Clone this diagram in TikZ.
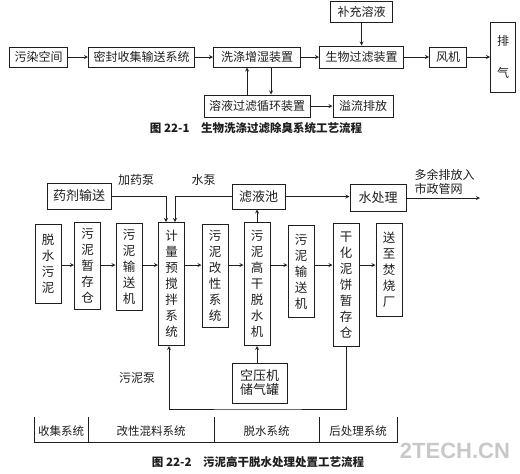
\documentclass[tikz,border=0pt]{standalone}
\usepackage{fontspec}
\setmainfont{Noto Sans CJK SC}
\newfontfamily\markfont{Liberation Sans}
\usepackage{tikz}
\usetikzlibrary{arrows, positioning}
\definecolor{ink}{RGB}{30, 30, 30}
\definecolor{markgray}{RGB}{200, 200, 200}
\tikzstyle{block} = [rectangle, draw=ink, line width=1pt, minimum height=20pt, inner xsep=5pt, text=ink, font=\fontsize{12}{14}\selectfont]
\tikzstyle{bblock} = [rectangle, draw=ink, line width=1pt, inner xsep=5pt, align=center, text=ink, font=\fontsize{13}{14}\selectfont]
\tikzstyle{vblock} = [rectangle, draw=ink, line width=1pt, anchor=north, align=center, minimum width=26pt, inner xsep=6pt, inner ysep=6pt, text=ink, font=\fontsize{12.5}{16}\selectfont]
\tikzstyle{note} = [text=ink, font=\fontsize{12}{13.5}\selectfont]
\tikzstyle{caption} = [text=ink, font=\bfseries\fontsize{11.5}{14}\selectfont]
\tikzstyle{arrow} = [line width=0.8pt, ->, >=stealth, color=ink]

\begin{document}
\begin{tikzpicture}[x=1pt, y=-1pt]
    \useasboundingbox (0,0) rectangle (520,474);

    % Nodes, figure 22-1
    \node (wuran) [block] at (38.5,57) {污染空间};
    \node (mifeng) [block, right=20pt of wuran] {密封收集输送系统};
    \node (xidi) [block, right=18pt of mifeng, minimum width=87pt] {洗涤增湿装置};
    \node (shengwu) [block, right=18pt of xidi, minimum width=84pt, minimum height=22pt] {生物过滤装置};
    \node (fengji) [block, right=25pt of shengwu, minimum width=37pt] {风机};
    \node (paiqi) [block, right=23pt of fengji, minimum width=25pt, minimum height=70pt, align=center] {排\\[18pt]气};
    \node (buchong) [block, above=23pt of shengwu, minimum width=62pt, minimum height=21pt] {补充溶液};
    \node (xunhuan) [block, below=27pt of xidi, minimum height=22pt] {溶液过滤循环装置};
    \node (yiliu) [block, right=22pt of xunhuan, minimum width=60pt, minimum height=22pt] {溢流排放};
    \node (cap1) [caption] at (256,128) {图 22-1\quad 生物洗涤过滤除臭系统工艺流程};

    % Arrows, figure 22-1
    \draw [arrow] (wuran) -- (mifeng);
    \draw [arrow] (mifeng) -- (xidi);
    \draw [arrow] (xidi) -- (shengwu);
    \draw [arrow] (shengwu) -- (fengji);
    \draw [arrow] (fengji) -- (paiqi);
    \draw [arrow] (buchong) -- (shengwu);
    \draw [arrow] ([xshift=-10pt]xunhuan.north) -- ([xshift=-10pt]xunhuan.north |- xidi.south);
    \draw [arrow] ([xshift=14pt]xidi.south) -- ([xshift=14pt]xidi.south |- xunhuan.north);
    \draw [arrow] (xunhuan) -- (yiliu);

    % Nodes, figure 22-2
    \coordinate (flow) at (0,265);
    \node (tuoshui) [vblock, minimum height=79pt] at (48,224) {脱\\水\\污\\泥};
    \node (zancun) [vblock] at (87.5,222) {污\\泥\\暂\\存\\仓};
    \node (shusong) [vblock] at (129,223) {污\\泥\\输\\送\\机};
    \node (jiliang) [vblock, minimum height=123pt] at (171.5,222) {计\\量\\预\\搅\\拌\\系\\统};
    \node (gaixing) [vblock] at (215,224) {污\\泥\\改\\性\\系\\统};
    \node (gaogan) [vblock, minimum height=123pt] at (257,222) {污\\泥\\高\\干\\脱\\水\\机};
    \node (chuansong) [vblock, minimum height=92pt] at (301,225) {污\\泥\\输\\送\\机};
    \node (ganhua) [vblock, minimum height=123pt] at (346,223) {干\\化\\泥\\饼\\暂\\存\\仓};
    \node (fenshao) [vblock, minimum height=93pt] at (389,223) {送\\至\\焚\\烧\\厂};

    \node (yaoji) [bblock, minimum width=64pt, minimum height=26pt] at (79,196) {药剂输送};
    \node (lvye) [bblock, minimum width=53pt, minimum height=25pt] at (258.5,196.5) {滤液池};
    \node (shuichuli) [bblock, minimum width=56pt, minimum height=27pt] at (378,198) {水处理};
    \node (kongya) [bblock, minimum width=55pt, minimum height=40pt] at (259.5,383) {空压机\\储气罐};
    \coordinate (outlet) at (480,198);
    \coordinate (pump) at (258,409);

    \node (jiayao) [note] at (136,180) {加药泵};
    \node (shuibeng) [note] at (203.5,180) {水泵};
    \node (shizheng) [note, anchor=north west, align=left] at (411,166) {多余排放入\\市政管网};
    \node (wunibeng) [note] at (137,378) {污泥泵};

    % Arrows, figure 22-2
    \draw [arrow] (tuoshui.east |- flow) -- (zancun.west |- flow);
    \draw [arrow] (zancun.east |- flow) -- (shusong.west |- flow);
    \draw [arrow] (shusong.east |- flow) -- (jiliang.west |- flow);
    \draw [arrow] (jiliang.east |- flow) -- (gaixing.west |- flow);
    \draw [arrow] (gaixing.east |- flow) -- (gaogan.west |- flow);
    \draw [arrow] (gaogan.east |- flow) -- (chuansong.west |- flow);
    \draw [arrow] (chuansong.east |- flow) -- (ganhua.west |- flow);
    \draw [arrow] (ganhua.east |- flow) -- (fenshao.west |- flow);
    \draw [arrow] (yaoji.east) -| ([xshift=-5.5pt]jiliang.north);
    \draw [arrow] (lvye.west) -| ([xshift=3.5pt]jiliang.north);
    \draw [arrow] (gaogan.north) -- (gaogan.north |- lvye.south);
    \draw [arrow] (lvye.east) -- (lvye.east -| shuichuli.west);
    \draw [arrow] (shuichuli.east) -- (outlet);
    \draw [arrow] (gaogan.south |- kongya.north) -- (gaogan.south);
    \draw [arrow] (ganhua.south) |- (pump) -| ([xshift=-2.5pt]jiliang.south);

    % Stage bar
    \draw [ink, line width=0.7pt] (34,417) -- (34,442) -- (397,442) -- (397,417);
    \draw [ink, line width=0.7pt] (88,417) -- (88,442) (214,417) -- (214,442) (319,417) -- (319,442);
    \node (shouji) [note, font=\fontsize{11.5}{13}\selectfont] at (61,431) {收集系统};
    \node (hunliao) [note, font=\fontsize{11.5}{13}\selectfont] at (151,431) {改性混料系统};
    \node (tuoshuixt) [note, font=\fontsize{11.5}{13}\selectfont] at (266.5,431) {脱水系统};
    \node (houchuli) [note, font=\fontsize{11.5}{13}\selectfont] at (358,431) {后处理系统};
    \node (cap2) [caption] at (258,462) {图 22-2\quad 污泥高干脱水处理处置工艺流程};
    \node (mark) [text=markgray, font=\markfont\bfseries\fontsize{22}{22}\selectfont] at (455,451) {2TECH.CN};
\end{tikzpicture}
\end{document}
